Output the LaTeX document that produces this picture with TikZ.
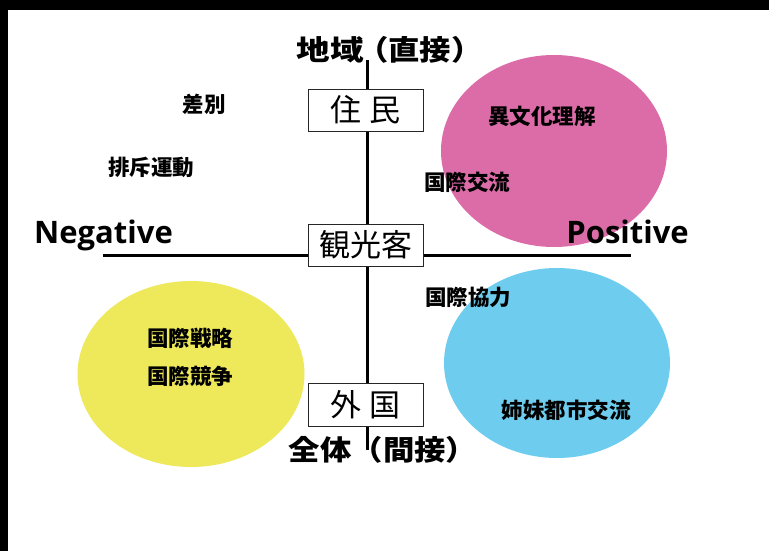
\documentclass[tikz,border=0pt]{standalone}
\usepackage{fontspec}
\usetikzlibrary{shapes.geometric}
\newfontfamily\jp{Noto Sans CJK JP}
\newfontfamily\lat{Open Sans}
\newcommand\wideT[1]{\scalebox{1.12}[1]{#1}}
\definecolor{pinkc}{RGB}{220,108,168}
\definecolor{bluec}{RGB}{110,205,239}
\definecolor{yellowc}{RGB}{237,233,90}
\begin{document}
\begin{tikzpicture}[x=1pt,y=-1pt,
  blob/.style={ellipse, inner sep=0pt, draw=none},
  lbl/.style={font=\jp\bfseries\fontsize{21.5}{24}\selectfont, inner sep=0pt},
  head/.style={font=\jp\bfseries\fontsize{28}{30}\selectfont, inner sep=0pt},
  pole/.style={font=\lat\bfseries\fontsize{31}{34}\selectfont, inner sep=0pt},
  kbox/.style={draw=black!85, line width=0.8pt, fill=white, minimum width=115pt,
    inner sep=0pt, font=\jp\fontsize{31}{34}\selectfont},
  axis/.style={line width=3pt, black}]
\useasboundingbox (0,0) rectangle (769,551);
\fill[black] (0,0) rectangle (769,551);
\fill[white] (8,10) rectangle (769,551);
% blobs
\node[blob, fill=pinkc, minimum width=226pt, minimum height=192pt] (pinkb) at (554,151) {};
\node[blob, fill=bluec, minimum width=226pt, minimum height=190pt] (blueb) at (557,363) {};
\node[blob, fill=yellowc, minimum width=227pt, minimum height=186pt] (yelb) at (191,374) {};
% axes
\coordinate (west) at (103,255);
\coordinate (east) at (631,255);
\coordinate (north) at (367,60);
\coordinate (south) at (367,450);
\draw[axis] (west) -- (east);
\draw[axis] (north) -- (south);
% boxes
\node[kbox, minimum height=42pt] (jumin) at (365.5,110) {住\hspace{0.25em}民};
\node[kbox, minimum height=42pt] (kanko) at (365.5,245) {観光客};
\node[kbox, minimum height=43pt] (gaikoku) at (365.5,404.5) {外\hspace{0.25em}国};
% headings
\node[head, anchor=east] (topL) at (364,50) {\scalebox{1.2}[1]{地域}};
\node[head, anchor=west] (topR) at (357,50) {\wideT{（直接）}};
\node[head] (bottom) at (383,450) {\wideT{全体（間接）}};
\node[pole, anchor=base west] (neg) at (34,243) {Negative};
\node[pole, anchor=base east] (pos) at (689,243) {Positive};
% labels
\node[lbl] (sabetsu) at (204,104) {差別};
\node[lbl] (haiseki) at (151,167) {排斥運動};
\node[lbl] (ibunka) at (542,116) {異文化理解};
\node[lbl] (kouryu) at (467,182) {国際交流};
\node[lbl] (kyoryoku) at (468,297) {国際協力};
\node[lbl] (senryaku) at (190,338) {国際戦略};
\node[lbl] (kyoso) at (190,376) {国際競争};
\node[lbl] (shimai) at (566,410) {姉妹都市交流};
\end{tikzpicture}
\end{document}
